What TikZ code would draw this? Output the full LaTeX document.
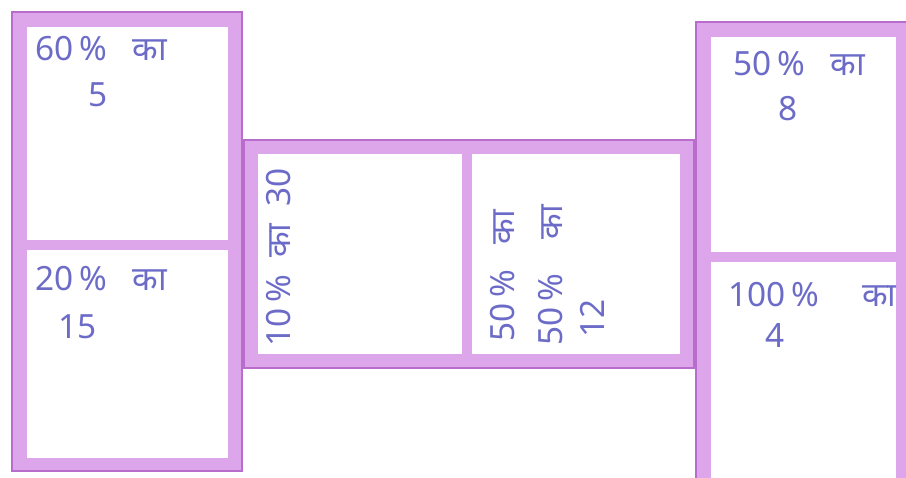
\documentclass[tikz,border=0pt]{standalone}
\usepackage{fontspec}
\newfontfamily\handfont[Script=Devanagari]{Noto Sans}
\usepackage{tikz}
\usetikzlibrary{positioning}
\definecolor{dominoband}{HTML}{DEA6EA}
\definecolor{dominoedge}{HTML}{B86CCB}
\definecolor{ink}{HTML}{6C6CC8}

\begin{document}
\begin{tikzpicture}[
        x=0.02cm, y=-0.02cm,
        tile/.style={draw=dominoband, line width=0.28cm},
        rim/.style={draw=dominoedge, line width=0.9pt},
        divider/.style={draw=dominoband, line width=0.2cm},
        hand/.style={font=\handfont\fontsize{19}{22}\selectfont, text=ink, inner sep=0pt, anchor=north west},
        handup/.style={hand, rotate=90}
    ]

        \useasboundingbox (0,0) rectangle (906,477);
        \clip (0,0) rectangle (906,477);

        % left domino
        \draw[tile] (20,20) rectangle (235,465);
        \draw[divider] (20,245) -- (235,245);
        \draw[rim] (12,12) rectangle (242,471);

        % middle domino
        \draw[tile] (251,147) rectangle (687,361);
        \draw[divider] (467,147) -- (467,361);
        \draw[rim] (244,140) rectangle (694,368);

        % right domino
        \draw[tile] (704,30) rectangle (903,490);
        \draw[divider] (704,257) -- (903,257);
        \draw[rim] (696,22) rectangle (911,500);

        % left domino texts
        \node[hand] (lt_pct) at (35,36) {60\,\%\ \ \ का};
        \node[hand] (lt_num) at (88,82) {5};
        \node[hand] (lb_pct) at (35,266) {20\,\%\ \ \ का};
        \node[hand] (lb_num) at (58,314) {15};

        % middle domino texts
        \node[handup] (ml_txt) at (266,347) {10\,\%\ \ का\ \ 30};
        \node[handup] (mr_one) at (490,342) {50\,\%\ \ \ का};
        \node[handup] (mr_two) at (538,346) {50\,\%\ \ \ \ का};
        \node[handup] (mr_num) at (580,338) {12};

        % right domino texts
        \node[hand] (rt_pct) at (733,51) {50\,\%\ \ \ का};
        \node[hand] (rt_num) at (778,96) {8};
        \node[hand] (rb_pct) at (728,282) {100\,\%\ \ \ \ \ का};
        \node[hand] (rb_num) at (765,323) {4};

\end{tikzpicture}
\end{document}
